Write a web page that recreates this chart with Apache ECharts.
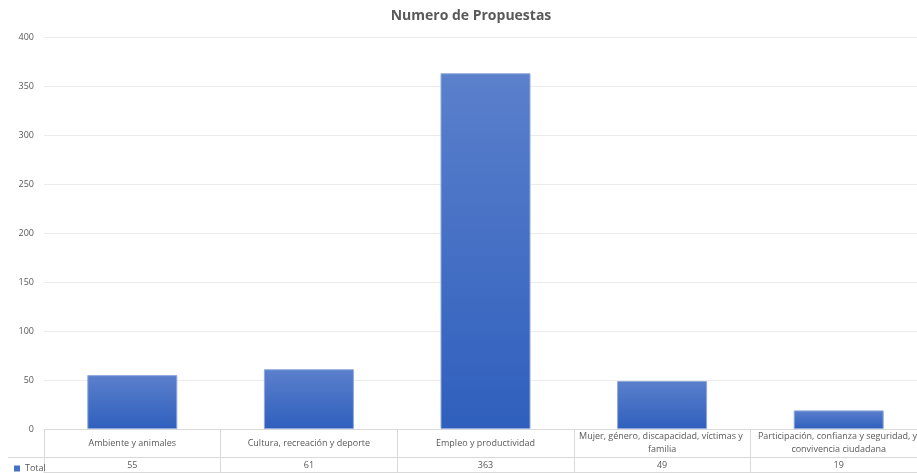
<!DOCTYPE html>
<html><head><meta charset="utf-8">
<script src="https://cdn.jsdelivr.net/npm/echarts@6/dist/echarts.min.js"></script>
<style>html,body{margin:0;padding:0;background:#fff;overflow:hidden}#c{width:917px;height:473px}</style>
</head><body><div id="c"></div>
<script>
var titleText = 'Numero de Propuestas';
var seriesName = 'Total';
var categories = ['Ambiente y animales','Cultura, recreación y deporte','Empleo y productividad','Mujer, género, discapacidad, víctimas y familia','Participación, confianza y seguridad, y convivencia ciudadana'];
var values = [55, 61, 363, 49, 19];
var yMin = 0, yMax = 400, yStep = 50;

var font = 'Open Sans';
var txt = '#595959';
var line = '#d9d9d9';
var chart = echarts.init(document.getElementById('c'));
chart.setOption({
  animation: false,
  title: {text: titleText, left: 466, top: 4, textAlign: 'center',
    textStyle: {fontFamily: font, fontSize: 14, fontWeight: 'bold', color: txt}},
  legend: {data: [seriesName], left: 9, top: 459, icon: 'rect', itemWidth: 6, itemHeight: 6, itemGap: 4,
    itemStyle: {color: '#4472c4', borderWidth: 0},
    textStyle: {fontFamily: font, fontSize: 9, color: txt}},
  graphic: [{type: 'line', shape: {x1: 8, y1: 457.5, x2: 44, y2: 457.5}, style: {stroke: line, lineWidth: 1}}],
  grid: {left: 44, right: -10, top: 37, bottom: 44, containLabel: false, outerBoundsMode: 'none'},
  xAxis: [
    {type: 'category', data: categories, position: 'bottom',
     axisLine: {show: true, lineStyle: {color: line}},
     axisTick: {show: true, interval: 0, length: 43, lineStyle: {color: line}},
     axisLabel: {interval: 0, fontFamily: font, fontSize: 9, color: txt, margin: 14, verticalAlign: 'middle',
       width: 200, overflow: 'break', lineHeight: 13, align: 'center'}},
    {type: 'category', data: values.map(String), position: 'bottom', offset: 28,
     axisLine: {show: true, lineStyle: {color: line}},
     axisTick: {show: false},
     axisLabel: {interval: 0, fontFamily: font, fontSize: 9, color: txt, margin: 8, verticalAlign: 'middle'}},
    {type: 'category', data: categories, position: 'bottom', offset: 43,
     axisLine: {show: true, lineStyle: {color: line}},
     axisTick: {show: false}, axisLabel: {show: false}}
  ],
  yAxis: {type: 'value', min: yMin, max: yMax, interval: yStep,
    axisLine: {show: false}, axisTick: {show: false},
    axisLabel: {fontFamily: font, fontSize: 9, color: txt, margin: 10},
    splitLine: {lineStyle: {color: '#ececec'}}},
  series: [{
    name: seriesName, type: 'bar', data: values, xAxisIndex: 0, barWidth: 90,
    itemStyle: {
      color: new echarts.graphic.LinearGradient(0, 0, 0, 1, [
        {offset: 0, color: '#5b80cc'}, {offset: 1, color: '#2f5fbd'}]),
      borderColor: '#8fa8dd', borderWidth: 1
    }
  }]
});
</script></body></html>
